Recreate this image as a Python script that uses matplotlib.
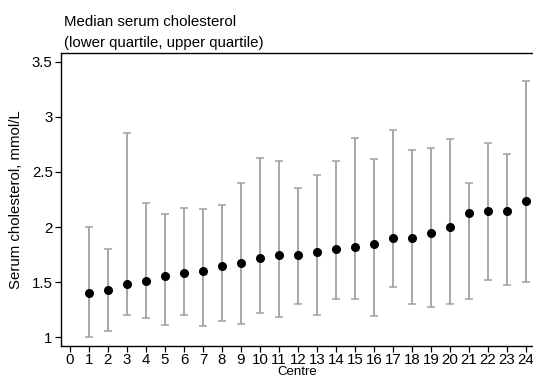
import matplotlib
matplotlib.use('Agg')
import matplotlib.pyplot as plt

centres = list(range(1, 25))
median = [1.40, 1.43, 1.48, 1.51, 1.56, 1.585, 1.60, 1.65, 1.67, 1.72, 1.745, 1.745,
          1.775, 1.80, 1.815, 1.85, 1.90, 1.90, 1.95, 2.00, 2.13, 2.145, 2.15, 2.24]
lower_q = [1.00, 1.06, 1.20, 1.17, 1.11, 1.20, 1.10, 1.15, 1.12, 1.22, 1.18, 1.30,
           1.20, 1.35, 1.345, 1.19, 1.46, 1.30, 1.275, 1.30, 1.35, 1.52, 1.47, 1.50]
upper_q = [2.00, 1.80, 2.85, 2.22, 2.115, 2.17, 2.165, 2.20, 2.40, 2.63, 2.60, 2.35,
           2.47, 2.60, 2.81, 2.62, 2.885, 2.70, 2.72, 2.80, 2.40, 2.76, 2.66, 3.33]
xticks = list(range(0, 25))
yticks = [1, 1.5, 2, 2.5, 3, 3.5]
ytick_labels = ['1', '1.5', '2', '2.5', '3', '3.5']
title_lines = ['Median serum cholesterol', '(lower quartile, upper quartile)']

plt.rcParams['font.family'] = ['Liberation Sans', 'DejaVu Sans']
FS = 10.8

fig = plt.figure(figsize=(5.33, 3.8), dpi=100)
ax = fig.add_axes([61 / 533, 1 - 346 / 380, 1 - 61 / 533, (346 - 53) / 380])

yerr = [[m - lo for m, lo in zip(median, lower_q)],
        [hi - m for m, hi in zip(median, upper_q)]]
ax.errorbar(centres, median, yerr=yerr, fmt='none', ecolor='#a0a0a0',
            elinewidth=1.3, capsize=3, capthick=1.1, zorder=2)
ax.plot(centres, median, 'o', color='black', markersize=5.5, zorder=3)

ax.set_xlim(-0.47, 24.37)
ax.set_ylim(0.92, 3.58)
ax.set_xticks(xticks)
ax.set_xticklabels([str(t) for t in xticks])
ax.set_yticks(yticks)
ax.set_yticklabels(ytick_labels)
ax.tick_params(direction='out', length=4, width=0.9, labelsize=FS, pad=2,
               colors='black')
ax.tick_params(axis='x', pad=1)

ax.spines['right'].set_visible(False)
for s in ('left', 'bottom', 'top'):
    ax.spines[s].set_linewidth(1.0)

ax.set_xlabel('Centre', fontsize=9.5, labelpad=-0.4)
ax.set_ylabel('Serum cholesterol, mmol/L', fontsize=FS, labelpad=6)

for i, line in enumerate(title_lines):
    fig.text(64 / 533, 1 - (22 + 21 * i) / 380, line,
             ha='left', va='center', fontsize=FS)

fig.savefig('out.png', dpi=100, facecolor='white')
